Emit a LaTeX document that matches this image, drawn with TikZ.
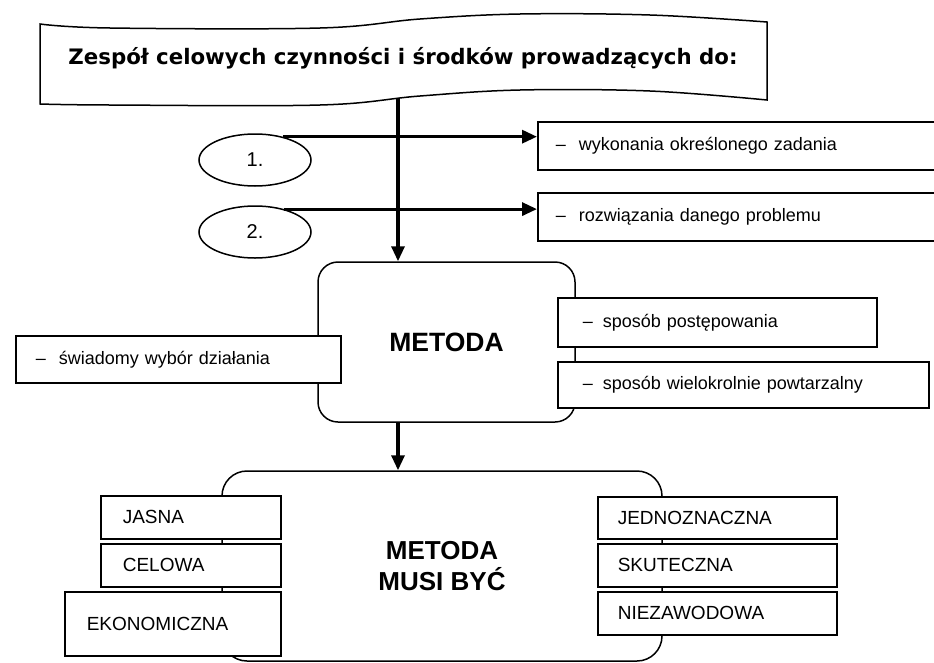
\documentclass[tikz,border=0pt]{standalone}
\usepackage{fontspec}
\setmainfont{Liberation Sans}
\newfontfamily\bannerfont{DejaVu Sans}
\usetikzlibrary{arrows.meta,shapes.geometric}

\begin{document}
\begin{tikzpicture}[x=1pt,y=-1pt,
  outline/.style={draw=black, line width=1.5pt},
  arr/.style={draw=black, line width=3.2pt, -{Triangle[length=15pt,width=13pt]}},
  tbox/.style={draw=black, fill=white, line width=1.6pt, anchor=north west,
    inner ysep=0pt, align=left, font=\fontsize{18}{21}\selectfont},
  capbox/.style={tbox, inner xsep=22pt, font=\fontsize{19}{22}\selectfont},
  oval/.style={ellipse, draw=black, line width=1.5pt, minimum width=112pt,
    minimum height=52pt, inner sep=0pt, font=\fontsize{20}{24}\selectfont},
  roundbox/.style={draw=black, line width=1.5pt, fill=white, inner sep=0pt,
    align=center, font=\fontsize{26.5}{31}\selectfont\bfseries}
]
\useasboundingbox (0,0) rectangle (934,662);
\fill[white] (0,0) rectangle (934,662);

% wavy banner at the top
\draw[outline, fill=white]
  plot[smooth, tension=0.6] coordinates {(40,24) (110,28) (320,28) (420,19) (520,14) (650,15) (767,22)}
  -- plot[smooth, tension=0.6] coordinates {(767,100) (650,91) (520,90) (420,96) (320,105) (110,105) (40,104)}
  -- cycle;
\node[font=\bannerfont\bfseries\fontsize{21.3}{25}\selectfont] (banner) at (403,58)
  {Zespół celowych czynności i środków prowadzących do:};
\coordinate (bannerfoot) at (398,98);

% numbered ovals
\node[oval] (e1) at (255,160) {1.};
\node[oval] (e2) at (255,232) {2.};

% goal boxes
\node[tbox, inner xsep=18pt, text width=374pt, minimum height=48pt] (g1) at (537,121)
  {–\hspace{13pt}wykonania określonego zadania};
\node[tbox, inner xsep=18pt, text width=374pt, minimum height=48pt] (g2) at (537,192)
  {–\hspace{13pt}rozwiązania danego problemu};

\draw[arr] (e1.40) -- (e1.40 -| g1.west);
\draw[arr] (e2.38) -- (e2.38 -| g2.west);

% central method box
\node[roundbox, rounded corners=20pt, minimum width=257pt, minimum height=160pt] (m)
  at (446.5,342) {METODA};
\draw[arr] (bannerfoot) -- (bannerfoot |- m.north);

\node[tbox, inner xsep=20pt, text width=285pt, minimum height=47pt] (s1) at (15,335)
  {–\hspace{13pt}świadomy wybór działania};
\node[tbox, inner xsep=25pt, text width=269pt, minimum height=49pt] (r1) at (557,297)
  {–\hspace{10pt}sposób postępowania};
\node[tbox, inner xsep=25pt, text width=321pt, minimum height=46pt] (r2) at (557,361)
  {–\hspace{10pt}sposób wielokrolnie powtarzalny};

% requirements box
\node[roundbox, rounded corners=25pt, minimum width=440pt, minimum height=190pt,
  font=\fontsize{26}{31}\selectfont\bfseries] (req) at (442,566) {METODA\\MUSI BYĆ};
\draw[arr] (bannerfoot |- m.south) -- (bannerfoot |- req.north);

\node[capbox, text width=136pt, minimum height=43pt] (jasna) at (100,495) {JASNA};
\node[capbox, text width=136pt, minimum height=43pt] (celowa) at (100,543) {CELOWA};
\node[capbox, text width=172pt, minimum height=64pt] (ekon) at (64,591) {EKONOMICZNA};

\node[capbox, inner xsep=20pt, text width=199pt, minimum height=42pt] (jedn) at (597,496) {JEDNOZNACZNA};
\node[capbox, inner xsep=20pt, text width=199pt, minimum height=43pt] (skut) at (597,543) {SKUTECZNA};
\node[capbox, inner xsep=20pt, text width=199pt, minimum height=43pt] (niez) at (597,591) {NIEZAWODOWA};
\end{tikzpicture}
\end{document}
